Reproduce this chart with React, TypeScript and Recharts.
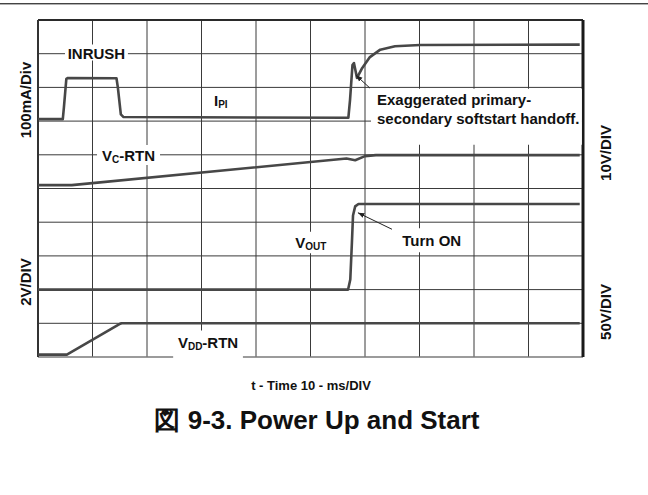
import React from "react";
import { LineChart, Line, XAxis, YAxis, ReferenceLine, ReferenceArea } from "recharts";

// Oscilloscope grid: 10 ms per division, 10 horizontal divisions, 10 vertical divisions
const TIME_TICKS = [0, 10, 20, 30, 40, 50, 60, 70, 80, 90, 100];
const DIV_TICKS = [0, 1, 2, 3, 4, 5, 6, 7, 8, 9, 10];

// I_PI trace (time in ms, level in divisions)
const IPI_T = [0, 4.55, 4.75, 5.2, 5.5, 14.4, 14.65, 15.2, 15.7, 56.95, 57.25, 57.7, 57.98, 58.53, 59.4, 60.9, 62.8, 65.5, 70.1, 99.4];
const IPI_V = [7.06, 7.06, 7.4, 8.25, 8.28, 8.27, 8.0, 7.2, 7.12, 7.1, 7.62, 8.66, 8.72, 8.28, 8.55, 8.9, 9.12, 9.22, 9.26, 9.27];

// V_C-RTN trace
const VC_T = [0, 6.2, 56.6, 58.2, 60.0, 62.0, 99.4];
const VC_V = [5.1, 5.1, 5.89, 5.84, 5.96, 5.99, 5.99];

// V_OUT trace
const VOUT_T = [0, 56.9, 57.3, 57.6, 57.8, 58.2, 58.8, 99.4];
const VOUT_V = [2.0, 2.0, 2.3, 3.4, 4.2, 4.47, 4.54, 4.54];

// V_DD-RTN trace
const VDD_T = [0, 5.3, 15.1, 15.4, 99.4];
const VDD_V = [0.07, 0.07, 0.99, 1.0, 1.0];

// annotation arrows (tail -> tip)
const ARROW1_T = [60.9, 58.35];
const ARROW1_V = [7.98, 8.36];
const ARROW2_T = [64.95, 58.7];
const ARROW2_V = [3.79, 4.28];

const toPts = (t: number[], v: number[]) => t.map((x, i) => ({ t: x, v: v[i] }));

const ipi = toPts(IPI_T, IPI_V);
const vc = toPts(VC_T, VC_V);
const vout = toPts(VOUT_T, VOUT_V);
const vdd = toPts(VDD_T, VDD_V);
const arrow1 = toPts(ARROW1_T, ARROW1_V);
const arrow2 = toPts(ARROW2_T, ARROW2_V);

const FONT = "'Liberation Sans', Arial, Helvetica, sans-serif";
const TRACE = "#474747";
const GRID = "#3a3a3a";

type Part = { t: string; sub?: boolean };

const renderParts = (parts: Part[]) => {
  let shifted = false;
  return parts.map((p, i) => {
    let dy = 0;
    if (p.sub && !shifted) {
      dy = 4;
      shifted = true;
    } else if (!p.sub && shifted) {
      dy = -4;
      shifted = false;
    }
    return (
      <tspan key={i} fontSize={p.sub ? 10 : undefined} dy={dy || undefined}>
        {p.t}
      </tspan>
    );
  });
};

function BoxText(props: any) {
  const { viewBox, parts, dy = 0 } = props;
  if (!viewBox) return null;
  const { x, y, width, height } = viewBox;
  return (
    <text
      x={x + width / 2}
      y={y + height / 2 + dy}
      textAnchor="middle"
      dominantBaseline="central"
      fontFamily={FONT}
      fontWeight="bold"
      fontSize={15}
      fill="#111"
    >
      {renderParts(parts)}
    </text>
  );
}

function MultiText(props: any) {
  const { viewBox, lines } = props;
  if (!viewBox) return null;
  const { x, y } = viewBox;
  return (
    <g>
      {lines.map((l: string, i: number) => (
        <text
          key={i}
          x={x + 6}
          y={y + 10.5 + i * 19.3}
          dominantBaseline="central"
          fontFamily={FONT}
          fontWeight="bold"
          fontSize={15}
          fill="#111"
        >
          {l}
        </text>
      ))}
    </g>
  );
}

export default function App() {
  return (
    <div style={{ position: "absolute", left: 0, top: 0, width: 648, height: 495, background: "#fff" }}>
      <svg width={0} height={0} style={{ position: "absolute" }}>
        <defs>
          <marker id="arrowhead" markerUnits="userSpaceOnUse" markerWidth={7} markerHeight={6} refX={6.5} refY={3} orient="auto">
            <path d="M0,0.5 L6.5,3 L0,5.5 z" fill="#222" />
          </marker>
        </defs>
      </svg>
      <div style={{ position: "absolute", left: 0, top: 3, width: 648, height: 1, background: "#444" }} />
      <div style={{ position: "absolute", left: 0, top: 4, width: 648, height: 1, background: "#b0b0b0" }} />
      <div style={{ position: "absolute", left: 0, top: 0 }}>
        <LineChart width={648} height={495} margin={{ top: 20, right: 65, bottom: 138, left: 38 }}>
          <XAxis type="number" dataKey="t" domain={[0, 100]} ticks={TIME_TICKS} hide allowDataOverflow />
          <YAxis type="number" dataKey="v" domain={[0, 10]} ticks={DIV_TICKS} hide allowDataOverflow />

          {TIME_TICKS.slice(1, -1).map((t) => (
            <ReferenceLine key={"vx" + t} x={t} stroke={GRID} strokeWidth={1} zIndex={50} />
          ))}
          {DIV_TICKS.slice(1, -1).map((d) => (
            <ReferenceLine key={"hy" + d} y={d} stroke={GRID} strokeWidth={1} zIndex={50} />
          ))}
          <ReferenceLine y={0} stroke="#7a7a7a" strokeWidth={1.5} zIndex={60} />
          <ReferenceLine y={10} stroke="#2a2a2a" strokeWidth={2} zIndex={60} />
          <ReferenceLine x={0} stroke="#333" strokeWidth={2} zIndex={60} />
          <ReferenceLine x={100} stroke="#1a1a1a" strokeWidth={3} zIndex={60} />

          <Line data={ipi} dataKey="v" type="linear" stroke={TRACE} strokeWidth={2.6} dot={false} activeDot={false} isAnimationActive={false} strokeLinejoin="round" zIndex={400} />
          <Line data={vc} dataKey="v" type="linear" stroke={TRACE} strokeWidth={2.6} dot={false} activeDot={false} isAnimationActive={false} strokeLinejoin="round" zIndex={400} />
          <Line data={vout} dataKey="v" type="linear" stroke={TRACE} strokeWidth={2.6} dot={false} activeDot={false} isAnimationActive={false} strokeLinejoin="round" zIndex={400} />
          <Line data={vdd} dataKey="v" type="linear" stroke={TRACE} strokeWidth={2.6} dot={false} activeDot={false} isAnimationActive={false} strokeLinejoin="round" zIndex={400} />

          <ReferenceArea x1={4.95} x2={16.5} y1={8.8} y2={9.27} fill="#fff" fillOpacity={1} stroke="none" zIndex={450}
            label={<BoxText parts={[{ t: "INRUSH" }]} />} />
          <ReferenceArea x1={10.83} x2={22.39} y1={5.7} y2={6.29} fill="#fff" fillOpacity={1} stroke="none" zIndex={450}
            label={<BoxText parts={[{ t: "V" }, { t: "C", sub: true }, { t: "-RTN" }]} />} />
          <ReferenceArea x1={32.5} x2={34.6} y1={7.47} y2={7.77} fill="#fff" fillOpacity={0} stroke="none" zIndex={450}
            label={<BoxText parts={[{ t: "I" }, { t: "PI", sub: true }]} />} />
          <ReferenceArea x1={61.1} x2={99.8} y1={6.3} y2={7.96} fill="#fff" fillOpacity={1} stroke="none" zIndex={450}
            label={<MultiText lines={["Exaggerated primary-", "secondary softstart handoff."]} />} />
          <ReferenceArea x1={46.2} x2={53.9} y1={3.08} y2={3.72} fill="#fff" fillOpacity={1} stroke="none" zIndex={450}
            label={<BoxText parts={[{ t: "V" }, { t: "OUT", sub: true }]} />} />
          <ReferenceArea x1={66.1} x2={78.4} y1={3.11} y2={3.82} fill="#fff" fillOpacity={1} stroke="none" zIndex={450}
            label={<BoxText parts={[{ t: "Turn ON" }]} />} />
          <ReferenceArea x1={24.8} x2={37.6} y1={-0.07} y2={0.79} fill="#fff" fillOpacity={1} stroke="none" zIndex={450} ifOverflow="visible"
            label={<BoxText parts={[{ t: "V" }, { t: "DD", sub: true }, { t: "-RTN" }]} dy={-2.5} />} />

          <Line data={arrow1} dataKey="v" type="linear" stroke="#222" strokeWidth={1} dot={false} activeDot={false} isAnimationActive={false} markerEnd="url(#arrowhead)" zIndex={500} />
          <Line data={arrow2} dataKey="v" type="linear" stroke="#222" strokeWidth={1} dot={false} activeDot={false} isAnimationActive={false} markerEnd="url(#arrowhead)" zIndex={500} />
        </LineChart>
      </div>
      <svg width={648} height={495} style={{ position: "absolute", left: 0, top: 0, pointerEvents: "none" }}>
        <g fontFamily={FONT} fontWeight="bold" fill="#111">
          <text x={31} y={100} fontSize={15} textAnchor="middle" transform="rotate(-90 31 100)">100mA/Div</text>
          <text x={31} y={282} fontSize={15} textAnchor="middle" transform="rotate(-90 31 282)">2V/DIV</text>
          <text x={611} y={153} fontSize={15} textAnchor="middle" transform="rotate(-90 611 153)">10V/DIV</text>
          <text x={611} y={312} fontSize={15} textAnchor="middle" transform="rotate(-90 611 312)">50V/DIV</text>
          <text x={311} y={389.5} fontSize={13} textAnchor="middle">t - Time 10 - ms/DIV</text>
          <text x={317} y={429} fontSize={26} textAnchor="middle">図 9-3. Power Up and Start</text>
        </g>
      </svg>
    </div>
  );
}
